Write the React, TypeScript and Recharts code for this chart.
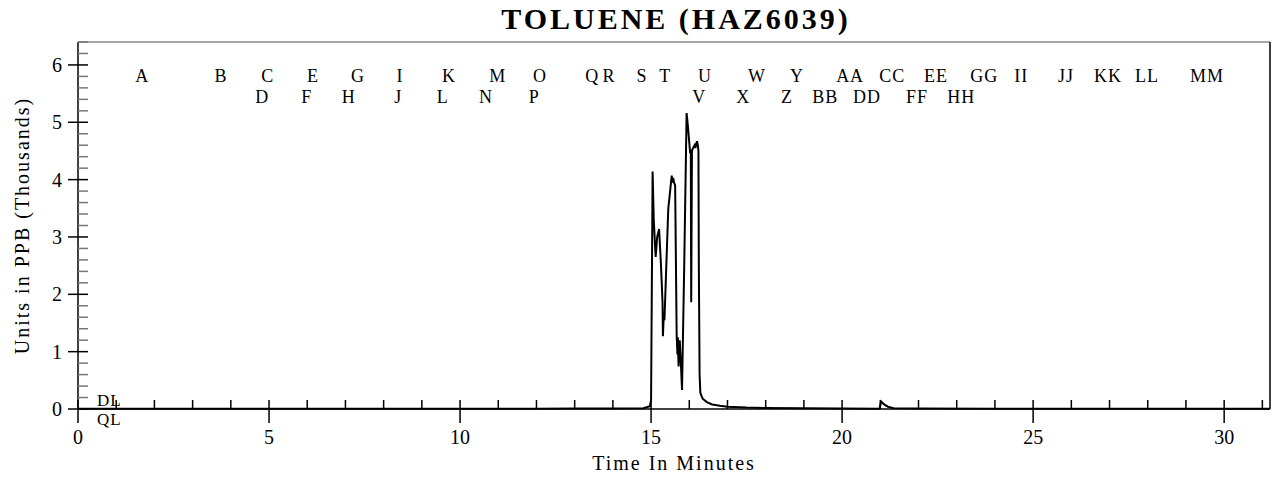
import React from "react";
import { LineChart, Line, XAxis, YAxis, ReferenceLine } from "recharts";

// chromatogram trace, time in minutes vs PPB (thousands)
const timeMin = [
  0, 2, 4, 6, 8, 10, 12, 13, 14, 14.8, 14.97, 15.0, 15.04, 15.07, 15.12, 15.16, 15.21,
  15.26, 15.3, 15.31, 15.33, 15.35, 15.45, 15.54, 15.56, 15.58, 15.6, 15.63, 15.67, 15.69,
  15.7, 15.72, 15.75, 15.78, 15.81, 15.87, 15.93, 15.96, 16.02, 16.04, 16.05, 16.07, 16.09,
  16.14, 16.16, 16.2, 16.22, 16.24, 16.25, 16.27, 16.29, 16.35, 16.46, 16.6, 16.8, 17.0,
  17.5, 18, 19, 20, 20.98, 21.02, 21.1, 21.2, 21.35, 22, 24, 26, 28, 30, 31.2,
];
const ppbK = [
  0.003, 0.004, 0.005, 0.004, 0.005, 0.006, 0.006, 0.008, 0.01, 0.015, 0.05, 0.16, 4.14, 3.3,
  2.65, 3.0, 3.14, 2.5, 1.86, 1.27, 1.6, 1.55, 3.49, 4.07, 3.95, 4.03, 3.95, 3.9, 1.27, 0.95,
  1.25, 0.74, 1.2, 0.8, 0.33, 2.6, 5.16, 4.96, 4.49, 4.5, 1.86, 4.5, 4.54, 4.6, 4.55, 4.67,
  4.62, 4.5, 2.5, 0.6, 0.28, 0.18, 0.12, 0.08, 0.055, 0.04, 0.025, 0.018, 0.012, 0.008, 0.006,
  0.13, 0.08, 0.04, 0.015, 0.008, 0.006, 0.005, 0.004, 0.004, 0.003,
];

// peak window letters along the top
const markerNames = [
  "A", "B", "C", "D", "E", "F", "G", "H", "I", "J", "K", "L", "M", "N", "O", "P", "Q", "R",
  "S", "T", "U", "V", "W", "X", "Y", "Z", "AA", "BB", "CC", "DD", "EE", "FF", "GG", "HH",
  "II", "JJ", "KK", "LL", "MM",
];
const markerTimes = [
  1.68, 3.74, 4.97, 4.82, 6.15, 5.99, 7.33, 7.09, 8.43, 8.38, 9.71, 9.55, 10.99, 10.68, 12.09,
  11.94, 13.46, 13.9, 14.76, 15.37, 16.41, 16.26, 17.77, 17.41, 18.82, 18.56, 20.21, 19.56,
  21.31, 20.65, 22.46, 21.96, 23.72, 23.12, 24.69, 25.86, 26.96, 27.98, 29.55,
];
const markerRows = [
  0, 0, 0, 1, 0, 1, 0, 1, 0, 1, 0, 1, 0, 1, 0, 1, 0, 0, 0, 0, 0, 1, 0, 1, 0, 1, 0, 1, 0, 1,
  0, 1, 0, 1, 0, 0, 0, 0, 0,
];

const limitNames = ["DL", "QL"];
const limitValues = [0, 0];

const xTicks = [
  0, 1, 2, 3, 4, 5, 6, 7, 8, 9, 10, 11, 12, 13, 14, 15, 16, 17, 18, 19, 20, 21, 22, 23, 24,
  25, 26, 27, 28, 29, 30, 31,
];
const xLabelTicks = [0, 5, 10, 15, 20, 25, 30];
const yTicks = [
  0, 0.2, 0.4, 0.6, 0.8, 1, 1.2, 1.4, 1.6, 1.8, 2, 2.2, 2.4, 2.6, 2.8, 3, 3.2, 3.4, 3.6, 3.8,
  4, 4.2, 4.4, 4.6, 4.8, 5, 5.2, 5.4, 5.6, 5.8, 6, 6.2, 6.4,
];
const yLabelTicks = [0, 1, 2, 3, 4, 5, 6];

const title = "TOLUENE (HAZ6039)";
const xTitle = "Time In Minutes";
const yTitle = "Units in PPB (Thousands)";

const data = timeMin.map((t, i) => ({ t, v: ppbK[i] }));

const FONT = "'Liberation Serif', 'Times New Roman', serif";

const XTick = ({ x, y, payload }: any) => {
  const major = xLabelTicks.includes(payload.value);
  return (
    <g>
      <line x1={x} x2={x} y1={y - 9} y2={major ? y + 14 : y} stroke="#000" strokeWidth={1.5} />
      {major && (
        <text x={x} y={y + 35} textAnchor="middle" fontFamily={FONT} fontSize={20} fill="#000">
          {payload.value}
        </text>
      )}
    </g>
  );
};

const YTick = ({ x, y, payload }: any) => {
  const major = yLabelTicks.includes(payload.value);
  return (
    <g>
      <line x1={major ? x - 10 : x} x2={x + 10} y1={y} y2={y} stroke={major ? "#000" : "#777"} strokeWidth={1.5} />
      {major && (
        <text x={x - 16} y={y + 7} textAnchor="end" fontFamily={FONT} fontSize={20} fill="#000">
          {payload.value}
        </text>
      )}
    </g>
  );
};

export default function App() {
  return (
    <div style={{ position: "absolute", left: 0, top: 0, width: 1276, height: 477, background: "#fff" }}>
      <LineChart width={1276} height={477} data={data} margin={{ top: 42, right: 6, bottom: 0, left: 18 }}>
        <XAxis
          dataKey="t"
          type="number"
          domain={[0, 31.2]}
          ticks={xTicks}
          interval={0}
          tickSize={0}
          tickMargin={0}
          tickLine={false}
          tick={<XTick />}
          height={68}
          axisLine={{ stroke: "#000", strokeWidth: 1.5 }}
          label={({ viewBox }: any) => (
            <text
              x={viewBox.x + viewBox.width / 2}
              y={viewBox.y + 61}
              textAnchor="middle"
              fontFamily={FONT}
              fontSize={20}
              letterSpacing={2}
              fill="#000"
            >
              {xTitle}
            </text>
          )}
        />
        <YAxis
          type="number"
          domain={[0, 6.4]}
          ticks={yTicks}
          interval={0}
          tickSize={0}
          tickMargin={0}
          tickLine={false}
          tick={<YTick />}
          width={60}
          axisLine={{ stroke: "#000", strokeWidth: 1.5 }}
          label={({ viewBox }: any) => {
            const cx = 29;
            const cy = viewBox.y + viewBox.height / 2;
            return (
              <text
                x={cx}
                y={cy}
                textAnchor="middle"
                transform={`rotate(-90, ${cx}, ${cy})`}
                fontFamily={FONT}
                fontSize={20}
                letterSpacing={2}
                fill="#000"
              >
                {yTitle}
              </text>
            );
          }}
        />
        <ReferenceLine
          y={6.4}
          stroke="#888"
          strokeWidth={1.5}
          label={({ viewBox }: any) => (
            <text
              x={viewBox.x + viewBox.width / 2 + 2}
              y={viewBox.y - 13}
              textAnchor="middle"
              fontFamily={FONT}
              fontSize={30}
              fontWeight="bold"
              letterSpacing={3}
              fill="#000"
            >
              {title}
            </text>
          )}
        />
        <ReferenceLine x={31.2} stroke="#000" strokeWidth={1.5} />
        {limitNames.map((name, i) => (
          <ReferenceLine
            key={name}
            y={limitValues[i]}
            stroke="none"
            label={({ viewBox }: any) => (
              <text
                x={viewBox.x + 19}
                y={i === 0 ? viewBox.y - 3 : viewBox.y + 16}
                fontFamily={FONT}
                fontSize={17}
                letterSpacing={1}
                fill="#000"
              >
                {name}
              </text>
            )}
          />
        ))}
        {markerNames.map((name, i) => (
          <ReferenceLine
            key={name}
            x={markerTimes[i]}
            stroke="none"
            label={({ viewBox }: any) => (
              <text
                x={viewBox.x}
                y={viewBox.y + (markerRows[i] ? 61 : 40)}
                textAnchor="middle"
                fontFamily={FONT}
                fontSize={18}
                letterSpacing={1}
                fill="#000"
              >
                {name}
              </text>
            )}
          />
        ))}
        <Line
          type="linear"
          dataKey="v"
          stroke="#000"
          strokeWidth={2}
          dot={false}
          isAnimationActive={false}
        />
      </LineChart>
    </div>
  );
}
